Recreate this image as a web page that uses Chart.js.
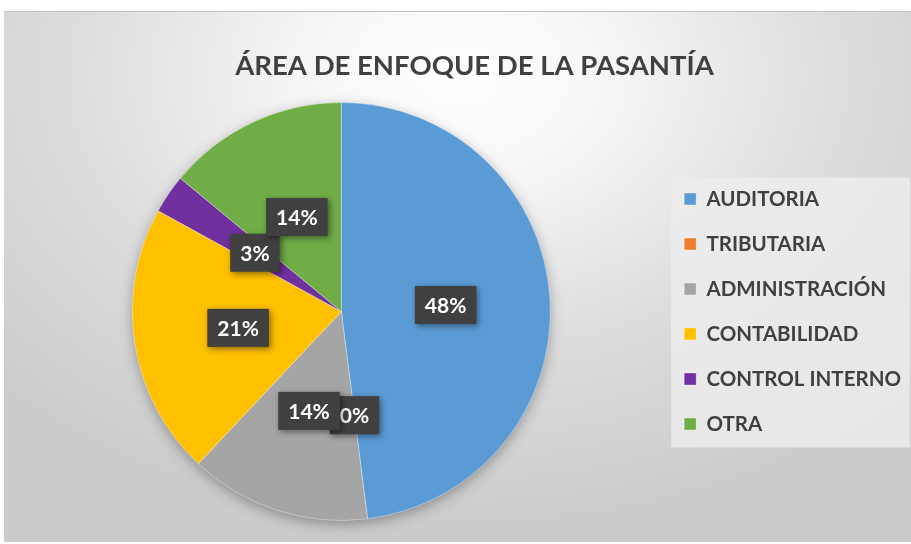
<!DOCTYPE html>
<html><head><meta charset="utf-8">
<script src="https://cdn.jsdelivr.net/npm/chart.js@4"></script>
<style>
html,body{margin:0;padding:0;background:#fff;width:911px;height:544px;overflow:hidden;}
#wrap{position:absolute;left:4px;top:11px;width:907px;height:531px;border-top:1px solid #c4c4c4;box-sizing:border-box;
background: radial-gradient(ellipse 70% 85% at 50% 12%, #ffffff 0%, #f5f5f5 25%, #dddddd 60%, #cbcbcb 100%);}
canvas{display:block}
</style></head><body>
<div id="wrap"><canvas id="c" width="907" height="530"></canvas></div>
<script>
const titleText = 'ÁREA DE ENFOQUE DE LA PASANTÍA';
const categories = ['AUDITORIA','TRIBUTARIA','ADMINISTRACIÓN','CONTABILIDAD','CONTROL INTERNO','OTRA'];
const percentValues = [48, 0, 14, 21, 3, 14];
const sliceColors = ['#5B9BD5','#ED7D31','#A5A5A5','#FFC000','#7030A0','#70AD47'];

const FONT = 'Lato, "Open Sans", sans-serif';
const LEG_F = 20.5, LEG_P = 24.5;

// widen the plot area to the left so the pie sits left of the title's centre
const plotShift = {
  id: 'plotShift',
  afterLayout(chart) {
    chart.chartArea.left -= 15;
    chart.chartArea.width += 15;
  }
};

const legendBg = {
  id: 'legendBg',
  beforeDraw(chart) {
    const lg = chart.legend; if (!lg) return;
    const colH = categories.length * (LEG_F + LEG_P);
    const startY = (lg.top + LEG_P + lg.bottom - colH) / 2;
    const firstC = startY + LEG_F / 2;
    const ctx = chart.ctx;
    ctx.save();
    ctx.fillStyle = 'rgba(236,236,236,0.85)';
    const x0 = lg.left + LEG_P - 13;
    ctx.fillRect(x0, firstC - 21.5, chart.width - 1 - x0, 5 * (LEG_F + LEG_P) + 45);
    ctx.restore();
  }
};

const pieShadow = {
  id: 'pieShadow',
  beforeDatasetsDraw(chart) {
    const arc = chart.getDatasetMeta(0).data[0]; if (!arc) return;
    const ctx = chart.ctx;
    ctx.save();
    ctx.shadowColor = 'rgba(0,0,0,0.35)';
    ctx.shadowBlur = 14;
    ctx.shadowOffsetY = 4;
    ctx.fillStyle = '#cccccc';
    ctx.beginPath();
    ctx.arc(arc.x, arc.y, arc.outerRadius - 1, 0, Math.PI * 2);
    ctx.fill();
    ctx.restore();
  }
};

const dataLabels = {
  id: 'dataLabels',
  afterDatasetsDraw(chart) {
    const ctx = chart.ctx;
    const meta = chart.getDatasetMeta(0);
    ctx.save();
    ctx.font = 'bold 21px ' + FONT;
    ctx.textAlign = 'center';
    ctx.textBaseline = 'middle';
    meta.data.forEach((arc, i) => {
      const p = arc.tooltipPosition();
      const txt = percentValues[i] + '%';
      const w = ctx.measureText(txt).width + 20;
      const h = 38;
      ctx.save();
      ctx.shadowColor = 'rgba(0,0,0,0.45)';
      ctx.shadowBlur = 6;
      ctx.shadowOffsetX = 2;
      ctx.shadowOffsetY = 2;
      ctx.fillStyle = '#404040';
      ctx.fillRect(p.x - w / 2, p.y - h / 2, w, h);
      ctx.restore();
      ctx.fillStyle = '#ffffff';
      ctx.fillText(txt, p.x, p.y + 1);
    });
    ctx.restore();
  }
};

new Chart(document.getElementById('c'), {
  type: 'pie',
  data: {
    labels: categories,
    datasets: [{
      data: percentValues,
      backgroundColor: sliceColors,
      borderColor: 'rgba(255,255,255,0.35)',
      borderWidth: 1
    }]
  },
  options: {
    responsive: false,
    animation: false,
    layout: { padding: { left: 34, right: 0, top: 0, bottom: 21 } },
    plugins: {
      tooltip: { enabled: false },
      title: {
        display: true,
        text: titleText,
        color: '#404040',
        font: { family: FONT, size: 27.5, weight: 'bold', lineHeight: 1.2 },
        padding: { top: 38, bottom: 19 }
      },
      legend: {
        position: 'right',
        fullSize: false,
        labels: {
          color: '#404040',
          font: { family: FONT, size: LEG_F, weight: 'bold' },
          boxWidth: 12,
          boxHeight: 12,
          padding: LEG_P
        }
      }
    }
  },
  plugins: [plotShift, legendBg, pieShadow, dataLabels]
});
</script>
</body></html>
